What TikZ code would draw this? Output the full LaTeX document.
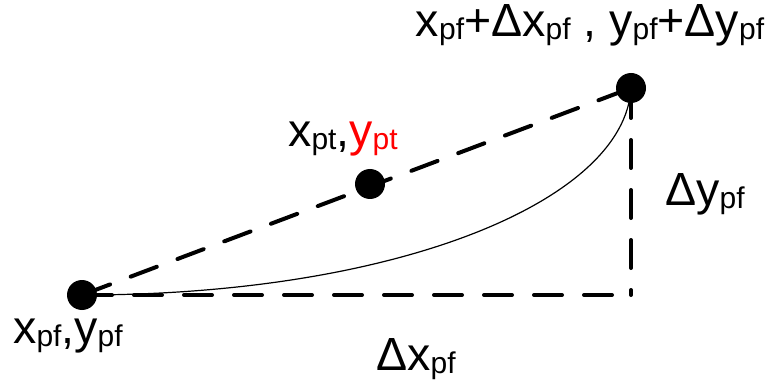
\documentclass[tikz,border=0pt]{standalone}
\usepackage{fontspec}
\setmainfont{Liberation Sans}
\usetikzlibrary{backgrounds}
\newcommand{\sbs}[1]{\raisebox{-3pt}{\fontsize{30}{30}\selectfont #1}}
\begin{document}
\begin{tikzpicture}[x=1pt,y=-1pt,
  dot/.style={circle,fill=black,draw=none,inner sep=0pt,minimum size=30pt},
  lbl/.style={inner sep=0pt,anchor=base,font=\fontsize{46.5}{46.5}\selectfont},
  dashline/.style={line width=4pt,line cap=round,dash pattern=on 28pt off 22pt,dash phase=-2pt},
  thin curve/.style={line width=1.2pt}]
\useasboundingbox (0,0) rectangle (767,387);
\node[dot] (a) at (82,295) {};
\node[dot] (b) at (631,88) {};
\node[dot] (c) at (370,184) {};
\coordinate (corner) at (631,295);
\begin{scope}[on background layer]
\draw[dashline] (a.center) -- (b.center);
\draw[dashline] (a.center) -- (corner);
\draw[dashline] (b.center) -- (corner);
\draw[thin curve] (a.center) .. controls +(318,0) and +(-6,112) .. (b.center);
\end{scope}
\node[lbl] (lb) at (590,37) {x\sbs{pf}+Δx\sbs{pf} , y\sbs{pf}+Δy\sbs{pf}};
\node[lbl] (lc) at (343,147) {x\sbs{pt},\textcolor{red}{y\sbs{pt}}};
\node[lbl] (la) at (68,343) {x\sbs{pf},y\sbs{pf}};
\node[lbl] (ldx) at (416,370) {Δx\sbs{pf}};
\node[lbl] (ldy) at (705,205) {Δy\sbs{pf}};
\end{tikzpicture}
\end{document}
